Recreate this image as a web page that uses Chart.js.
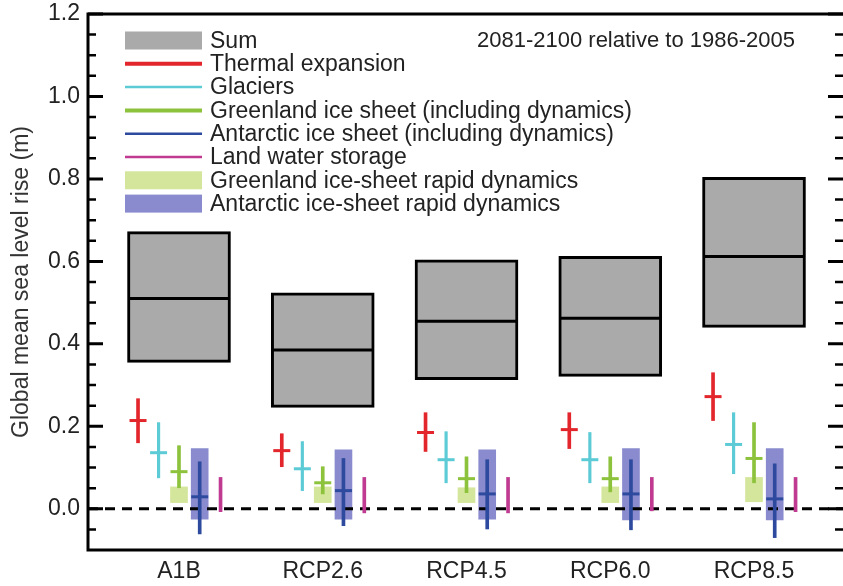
<!DOCTYPE html>
<html>
<head>
<meta charset="utf-8">
<script src="https://cdn.jsdelivr.net/npm/chart.js@4.4.1/dist/chart.umd.min.js"></script>
<style>
  html, body { margin: 0; padding: 0; background: #fff; overflow: hidden; }
  canvas { display: block; }
</style>
</head>
<body>
<canvas id="slr" width="843" height="586"></canvas>
<script>
// scenarios along the x axis
const scenarios = ["A1B", "RCP2.6", "RCP4.5", "RCP6.0", "RCP8.5"];

// Sum: likely range + median (m)
const sumLow  = [0.355, 0.246, 0.313, 0.321, 0.440];
const sumMid  = [0.510, 0.385, 0.455, 0.462, 0.612];
const sumHigh = [0.672, 0.524, 0.604, 0.612, 0.804];

// components: median and likely range (m)
const thermalMid  = [0.214, 0.141, 0.185, 0.192, 0.272];
const thermalLow  = [0.160, 0.102, 0.139, 0.146, 0.214];
const thermalHigh = [0.267, 0.182, 0.233, 0.233, 0.330];

const glacierMid  = [0.136, 0.097, 0.119, 0.119, 0.156];
const glacierLow  = [0.075, 0.044, 0.063, 0.063, 0.085];
const glacierHigh = [0.209, 0.163, 0.187, 0.185, 0.233];

const greenlandMid  = [0.090, 0.063, 0.073, 0.073, 0.122];
const greenlandLow  = [0.051, 0.036, 0.039, 0.041, 0.063];
const greenlandHigh = [0.153, 0.102, 0.126, 0.126, 0.209];

const antarcticMid  = [0.029, 0.044, 0.036, 0.036, 0.024];
const antarcticLow  = [-0.061, -0.041, -0.049, -0.051, -0.070];
const antarcticHigh = [0.114, 0.122, 0.119, 0.119, 0.109];

const landLow  = [-0.007, -0.010, -0.010, -0.005, -0.007];
const landHigh = [0.076, 0.076, 0.076, 0.076, 0.076];

// rapid dynamics ranges (m)
const greenRapidLow  = [0.015, 0.015, 0.015, 0.015, 0.017];
const greenRapidHigh = [0.053, 0.053, 0.051, 0.053, 0.076];
const antRapidLow    = [-0.025, -0.025, -0.025, -0.027, -0.027];
const antRapidHigh   = [0.146, 0.143, 0.143, 0.146, 0.146];

// y axis ticks
const yMajorTicks = [0.0, 0.2, 0.4, 0.6, 0.8, 1.0, 1.2];
const yMinorTicks = [-0.05, 0.05, 0.1, 0.15, 0.25, 0.3, 0.35, 0.45, 0.5, 0.55,
                     0.65, 0.7, 0.75, 0.85, 0.9, 0.95, 1.05, 1.1, 1.15];

const FONT = "'Liberation Sans', Arial, Helvetica, sans-serif";
const X_MIN = -0.633, X_MAX = 4.619;

const SUM_GREY = "#aaaaaa";
const GREEN_RAPID = "#d4e69b";
const ANT_RAPID = "#8a8bce";

// offsets of each component inside a scenario group (x units)
const components = [
  { label: "Thermal expansion", color: "#e2262b", off: -0.285, lw: 3, legendW: 4,
    low: thermalLow, mid: thermalMid, high: thermalHigh },
  { label: "Glaciers", color: "#5ccbd6", off: -0.142, lw: 2.5, legendW: 2.5,
    low: glacierLow, mid: glacierMid, high: glacierHigh },
  { label: "Greenland ice sheet (including dynamics)", color: "#8cc23c", off: 0, lw: 3, legendW: 4,
    low: greenlandLow, mid: greenlandMid, high: greenlandHigh },
  { label: "Antarctic ice sheet (including dynamics)", color: "#2d4a9e", off: 0.144, lw: 3, legendW: 2.5,
    low: antarcticLow, mid: antarcticMid, high: antarcticHigh },
  { label: "Land water storage", color: "#bf3a90", off: 0.289, lw: 3, legendW: 2.5,
    low: landLow, mid: null, high: landHigh }
];

const datasets = [];

// Sum boxes and medians
datasets.push({
  type: "bar", label: "Sum",
  data: scenarios.map((s, i) => ({ x: i, y: [sumLow[i], sumHigh[i]] })),
  backgroundColor: SUM_GREY, borderColor: "#000", borderWidth: 3, borderSkipped: false,
  barThickness: 103, stack: "all", order: 20
});
datasets.push({
  type: "scatter", label: "Sum median",
  data: scenarios.map((s, i) => ({ x: i, y: sumMid[i] })),
  pointStyle: "line", pointRadius: 50, pointBorderWidth: 3, pointBorderColor: "#000", order: 1
});

// rapid dynamics boxes
datasets.push({
  type: "bar", label: "Greenland ice-sheet rapid dynamics",
  data: scenarios.map((s, i) => ({ x: i + components[2].off, y: [greenRapidLow[i], greenRapidHigh[i]] })),
  backgroundColor: GREEN_RAPID, borderWidth: 0, barThickness: 17, stack: "all", order: 15
});
datasets.push({
  type: "bar", label: "Antarctic ice-sheet rapid dynamics",
  data: scenarios.map((s, i) => ({ x: i + components[3].off, y: [antRapidLow[i], antRapidHigh[i]] })),
  backgroundColor: ANT_RAPID, borderWidth: 0, barThickness: 17, stack: "all", order: 15
});

// dashed zero line
datasets.push({
  type: "line", label: "zero",
  data: [{ x: X_MIN, y: 0 }, { x: X_MAX, y: 0 }],
  borderColor: "#000", borderWidth: 3, borderDash: [10, 7], pointRadius: 0, order: 12
});

// component ranges + median ticks
components.forEach((c) => {
  datasets.push({
    type: "bar", label: c.label,
    data: scenarios.map((s, i) => ({ x: i + c.off, y: [c.low[i], c.high[i]] })),
    backgroundColor: c.color, borderWidth: 0, barThickness: c.lw, stack: "all", order: 6
  });
  if (c.mid) {
    datasets.push({
      type: "scatter", label: c.label + " median",
      data: scenarios.map((s, i) => ({ x: i + c.off, y: c.mid[i] })),
      pointStyle: "line", pointRadius: 8.5, pointBorderWidth: 3, pointBorderColor: c.color, order: 4
    });
  }
});

// legend entries drawn inside the plot
const legendItems = [
  { text: "Sum", color: SUM_GREY, box: true },
  ...components.map(c => ({ text: c.label, color: c.color, lw: c.legendW })),
  { text: "Greenland ice-sheet rapid dynamics", color: GREEN_RAPID, box: true },
  { text: "Antarctic ice-sheet rapid dynamics", color: ANT_RAPID, box: true }
];

const framePlugin = {
  id: "frameLegend",
  afterDatasetsDraw(chart) {
    const { ctx, chartArea: a, scales: { y } } = chart;
    ctx.save();
    ctx.strokeStyle = "#000";
    ctx.lineCap = "butt";

    // frame (right side is off the page)
    ctx.lineWidth = 3;
    ctx.beginPath();
    ctx.moveTo(a.right + 2, a.top);
    ctx.lineTo(a.left, a.top);
    ctx.lineTo(a.left, a.bottom);
    ctx.lineTo(a.right + 2, a.bottom);
    ctx.stroke();

    // inward ticks on both sides
    const drawTick = (v, len, w) => {
      const py = y.getPixelForValue(v);
      ctx.lineWidth = w;
      ctx.beginPath();
      ctx.moveTo(a.left, py); ctx.lineTo(a.left + len, py);
      ctx.moveTo(a.right, py); ctx.lineTo(a.right - len, py);
      ctx.stroke();
    };
    yMajorTicks.forEach(v => drawTick(v, 15, 3));
    yMinorTicks.forEach(v => drawTick(v, 8, 2.5));

    // legend
    const x0 = a.left + 37, sw = 77;
    ctx.font = "23px " + FONT;
    ctx.textBaseline = "middle";
    ctx.textAlign = "left";
    legendItems.forEach((it, k) => {
      const cy = a.top + 26.5 + k * 23.3;
      if (it.box) {
        ctx.fillStyle = it.color;
        ctx.fillRect(x0, cy - 9, sw, 18);
      } else {
        ctx.strokeStyle = it.color;
        ctx.lineWidth = it.lw;
        ctx.beginPath();
        ctx.moveTo(x0, cy); ctx.lineTo(x0 + sw, cy);
        ctx.stroke();
      }
      ctx.fillStyle = "#222";
      ctx.fillText(it.text, x0 + sw + 8, cy + 1);
    });

    // period note
    ctx.font = "22px " + FONT;
    ctx.textAlign = "right";
    ctx.fillText("2081-2100 relative to 1986-2005", a.right - 48, a.top + 27);
    ctx.restore();
  }
};

new Chart(document.getElementById("slr"), {
  type: "bar",
  data: { datasets },
  options: {
    responsive: false,
    animation: false,
    events: [],
    layout: { autoPadding: false, padding: { top: 14, right: 0, left: 0, bottom: 0 } },
    plugins: { legend: { display: false }, tooltip: { enabled: false } },
    scales: {
      x: {
        type: "linear", min: X_MIN, max: X_MAX, offset: false,
        grid: { display: false, drawTicks: false },
        border: { display: false },
        afterBuildTicks: (scale) => { scale.ticks = scenarios.map((s, i) => ({ value: i })); },
        afterFit: (scale) => {
          scale.height = 36;
          scale.paddingLeft = 0; scale.paddingRight = 0;
        },
        ticks: {
          autoSkip: false, maxRotation: 0, padding: 8,
          color: "#222", font: { family: FONT, size: 23 },
          callback: (v) => scenarios[Math.round(v)]
        }
      },
      y: {
        type: "linear", min: -0.1, max: 1.2, stacked: false,
        grid: { display: false, drawTicks: false },
        border: { display: false },
        afterBuildTicks: (scale) => { scale.ticks = yMajorTicks.map(v => ({ value: v })); },
        afterFit: (scale) => {
          scale.width = 88;
          scale.paddingTop = 0; scale.paddingBottom = 0;
        },
        ticks: {
          padding: 8, color: "#222", font: { family: FONT, size: 23 },
          callback: (v) => v.toFixed(1)
        },
        title: {
          display: true, text: "Global mean sea level rise (m)",
          color: "#333", font: { family: FONT, size: 23, lineHeight: 1.2 },
          padding: { top: 8, bottom: 0 }
        }
      }
    }
  },
  plugins: [framePlugin]
});
</script>
</body>
</html>
